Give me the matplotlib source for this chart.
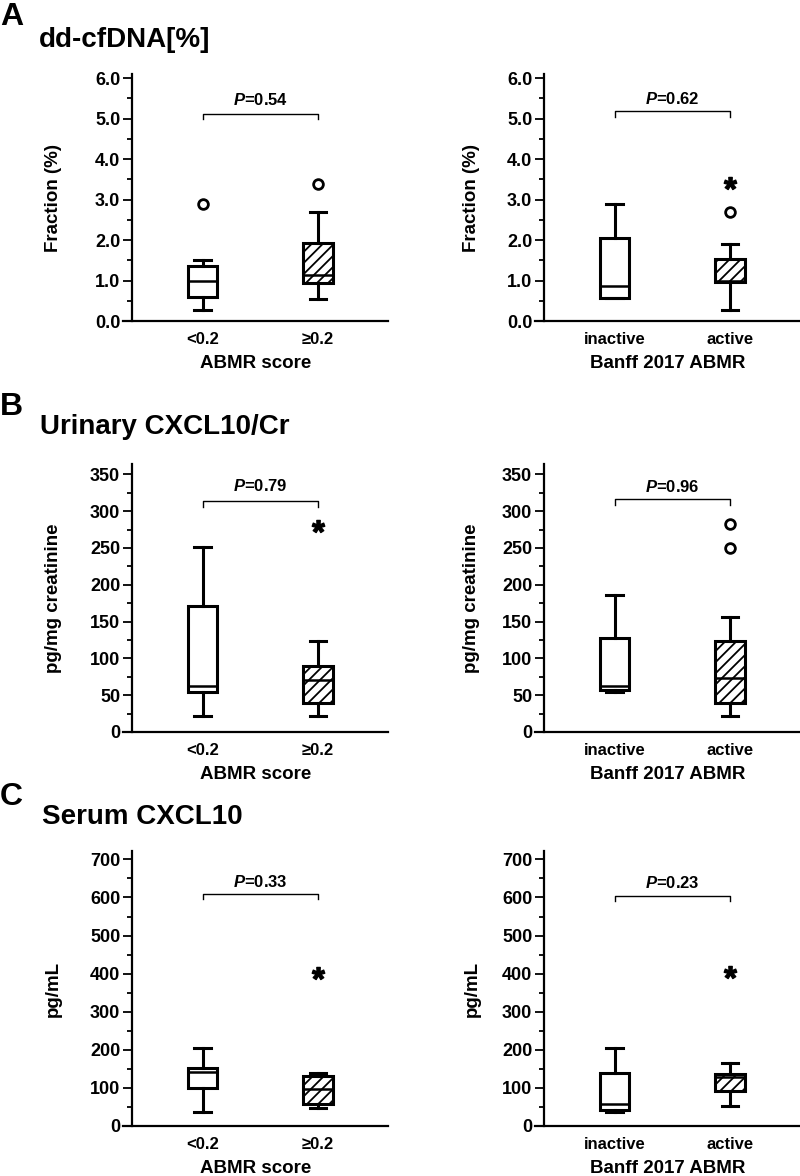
import matplotlib
matplotlib.use('Agg')
import matplotlib.pyplot as plt
from matplotlib.ticker import MultipleLocator, FormatStrFormatter

plt.rcParams['font.family'] = ['Liberation Sans', 'DejaVu Sans']
plt.rcParams['font.weight'] = 'bold'
plt.rcParams['axes.labelweight'] = 'bold'
plt.rcParams['mathtext.fontset'] = 'custom'
plt.rcParams['mathtext.it'] = 'Liberation Sans:italic:bold'
plt.rcParams['mathtext.rm'] = 'Liberation Sans:bold'
plt.rcParams['mathtext.bf'] = 'Liberation Sans:bold'
plt.rcParams['hatch.linewidth'] = 1.3

# ---------------- data ----------------
score_groups = ['<0.2', '\u22650.2']
banff_groups = ['inactive', 'active']

# five-number summaries: [whisker low, Q1, median, Q3, whisker high]
# A: dd-cfDNA fraction (%)
dd_score_lt = [0.27, 0.59, 0.99, 1.36, 1.50]
dd_score_ge = [0.55, 0.95, 1.13, 1.92, 2.70]
dd_score_circles = [[2.89], [3.39]]
dd_score_stars = [[], []]
dd_score_p = '0.54'

dd_banff_inactive = [0.57, 0.57, 0.87, 2.06, 2.90]
dd_banff_active = [0.27, 0.96, 0.98, 1.52, 1.90]
dd_banff_circles = [[], [2.70]]
dd_banff_stars = [[], [3.40]]
dd_banff_p = '0.62'

# B: urinary CXCL10/Cr (pg/mg creatinine)
ucx_score_lt = [22, 54, 62, 171, 251]
ucx_score_ge = [22, 40, 70, 89, 123]
ucx_score_circles = [[], []]
ucx_score_stars = [[], [280]]
ucx_score_p = '0.79'

ucx_banff_inactive = [54, 57, 63, 127, 186]
ucx_banff_active = [22, 40, 73, 124, 156]
ucx_banff_circles = [[], [250, 282]]
ucx_banff_stars = [[], []]
ucx_banff_p = '0.96'

# C: serum CXCL10 (pg/mL)
scx_score_lt = [36, 101, 142, 151, 205]
scx_score_ge = [48, 57, 98, 131, 140]
scx_score_circles = [[], []]
scx_score_stars = [[], [403]]
scx_score_p = '0.33'

scx_banff_inactive = [36, 42, 57, 139, 206]
scx_banff_active = [52, 91, 129, 136, 166]
scx_banff_circles = [[], []]
scx_banff_stars = [[], [405]]
scx_banff_p = '0.23'

# ---------------- figure ----------------
W, H = 800, 1176
fig = plt.figure(figsize=(W / 100, H / 100), dpi=100)


def rect(x0, ytop, x1, ybot):
    return [x0 / W, 1 - ybot / H, (x1 - x0) / W, (ybot - ytop) / H]


def panel(ax, groups, s1, s2, circles, stars, p, ylim, major, minor, fmt,
          ylabel, xlabel, bracket, ylab_x):
    stats = []
    for s in (s1, s2):
        stats.append(dict(whislo=s[0], q1=s[1], med=s[2], q3=s[3], whishi=s[4]))
    lw = 2.2
    art = ax.bxp(stats, positions=[1, 2], widths=0.26, capwidths=0.14,
                 patch_artist=True, showfliers=False, manage_ticks=False,
                 boxprops=dict(facecolor='white', edgecolor='black', linewidth=lw),
                 whiskerprops=dict(color='black', linewidth=lw),
                 capprops=dict(color='black', linewidth=lw),
                 medianprops=dict(color='black', linewidth=1.8))
    art['boxes'][1].set_hatch('///')
    for i, (cv, sv) in enumerate(zip(circles, stars)):
        if cv:
            ax.plot([i + 1] * len(cv), cv, linestyle='none', marker='o', ms=7,
                    mfc='white', mec='black', mew=2.0, zorder=5)
        if sv:
            ax.plot([i + 1] * len(sv), sv, linestyle='none', marker='$*$', ms=9,
                    color='black', zorder=5)
    ax.set_xlim(0.31, 2.61)
    ax.set_ylim(*ylim)
    ax.yaxis.set_major_locator(MultipleLocator(major))
    ax.yaxis.set_minor_locator(MultipleLocator(minor))
    ax.yaxis.set_major_formatter(FormatStrFormatter(fmt))
    ax.set_xticks([1, 2])
    ax.set_xticklabels(groups)
    ax.tick_params(axis='x', length=0, pad=8, labelsize=12)
    ax.tick_params(axis='y', which='major', direction='out', length=6.5, width=1.3,
                   pad=2, labelsize=13)
    ax.tick_params(axis='y', which='minor', direction='out', length=3.6, width=1.3)
    for sp in ('top', 'right'):
        ax.spines[sp].set_visible(False)
    ax.spines['left'].set_position(('axes', 0.034))
    ax.spines['left'].set_linewidth(1.6)
    ax.spines['bottom'].set_linewidth(1.6)
    ax.set_ylabel(ylabel, fontsize=13.5)
    ax.yaxis.set_label_coords(ylab_x, 0.5)
    ax.yaxis.label.set_verticalalignment('center')
    ax.set_xlabel(xlabel, fontsize=13.5, labelpad=6)
    yb, yl, yt = bracket
    ax.plot([1, 1, 2, 2], [yl, yb, yb, yl], color='black', linewidth=1.0)
    ax.text(1.5, yt, r'$P$=' + p, ha='center', va='baseline', fontsize=12,
            fontweight='bold')


axA1 = fig.add_axes(rect(123, 74, 388, 321))
axA2 = fig.add_axes(rect(535, 74, 800, 321))
axB1 = fig.add_axes(rect(123, 464, 388, 732))
axB2 = fig.add_axes(rect(535, 464, 800, 732))
axC1 = fig.add_axes(rect(123, 851, 388, 1126))
axC2 = fig.add_axes(rect(535, 851, 800, 1126))

panel(axA1, score_groups, dd_score_lt, dd_score_ge, dd_score_circles, dd_score_stars,
      dd_score_p, (0, 6.1), 1.0, 0.5, '%.1f', 'Fraction (%)', 'ABMR score',
      (5.10, 5.00, 5.33), -0.264)
panel(axA2, banff_groups, dd_banff_inactive, dd_banff_active, dd_banff_circles,
      dd_banff_stars, dd_banff_p, (0, 6.1), 1.0, 0.5, '%.1f', 'Fraction (%)',
      'Banff 2017 ABMR', (5.18, 5.03, 5.36), -0.238)
panel(axB1, score_groups, ucx_score_lt, ucx_score_ge, ucx_score_circles, ucx_score_stars,
      ucx_score_p, (0, 364), 50, 25, '%d', 'pg/mg creatinine', 'ABMR score',
      (314, 306, 327), -0.264)
panel(axB2, banff_groups, ucx_banff_inactive, ucx_banff_active, ucx_banff_circles,
      ucx_banff_stars, ucx_banff_p, (0, 364), 50, 25, '%d', 'pg/mg creatinine',
      'Banff 2017 ABMR', (316, 308, 326), -0.238)
panel(axC1, score_groups, scx_score_lt, scx_score_ge, scx_score_circles, scx_score_stars,
      scx_score_p, (0, 722), 100, 50, '%d', 'pg/mL', 'ABMR score',
      (608, 595, 628), -0.264)
panel(axC2, banff_groups, scx_banff_inactive, scx_banff_active, scx_banff_circles,
      scx_banff_stars, scx_banff_p, (0, 722), 100, 50, '%d', 'pg/mL',
      'Banff 2017 ABMR', (604, 591, 624), -0.238)

# panel letters and titles
for letter, ybase in (('A', 25), ('B', 415), ('C', 805)):
    fig.text(0 / W, 1 - ybase / H, letter, fontsize=23, fontweight='bold',
             ha='left', va='baseline')
for title, x, ybase in (('dd-cfDNA[%]', 39, 47), ('Urinary CXCL10/Cr', 40, 434),
                        ('Serum CXCL10', 42, 824)):
    fig.text(x / W, 1 - ybase / H, title, fontsize=20, fontweight='bold',
             ha='left', va='baseline')

fig.savefig('out.png', dpi=100)
